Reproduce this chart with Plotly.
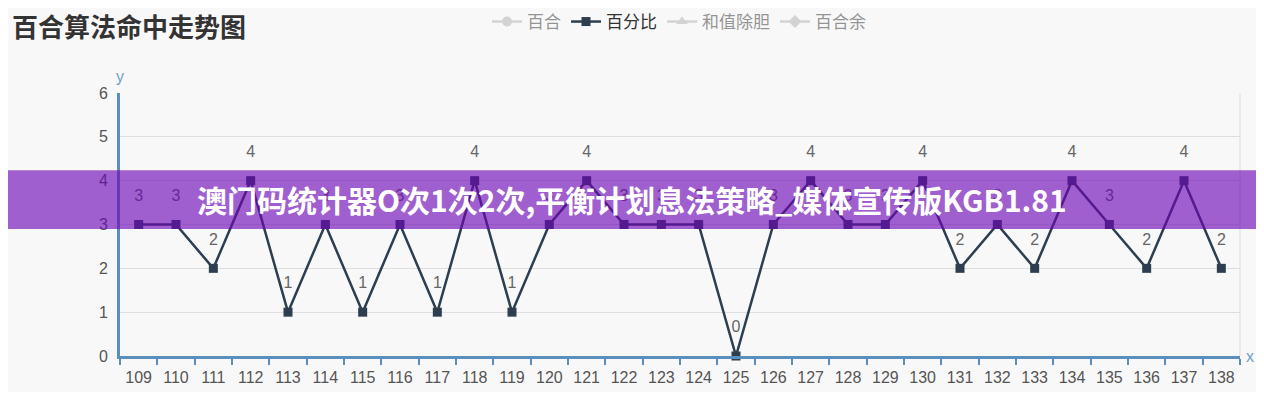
import plotly.graph_objects as go

periods = [str(p) for p in range(109, 139)]
pct_values = [3, 3, 2, 4, 1, 3, 1, 3, 1, 4, 1, 3, 4, 3, 3, 3, 0, 3, 4, 3,
              3, 4, 2, 3, 2, 4, 3, 2, 4, 2]
legend_names = ["百合", "百分比", "和值除胆", "百合余"]
legend_symbols = ["circle", "square", "triangle-up", "diamond"]

title_text = "百合算法命中走势图"
banner_text = "澳门码统计器O次1次2次,平衡计划息法策略_媒体宣传版KGB1.81"

font_main = "Arial, Liberation Sans, Noto Sans CJK SC, sans-serif"
font_cjk = "Noto Sans CJK SC, sans-serif"
axis_blue = "#5b8fbd"
dark = "#2c3e50"

# the page body adds an 8px margin, so the figure is 16px smaller than the window
W, H = 1248, 384
plot_l, plot_r = 112, 1232

fig = go.Figure()

for name, sym in zip(legend_names, legend_symbols):
    if name == "百分比":
        fig.add_trace(go.Scatter(
            x=periods, y=pct_values, name=name, mode="lines+markers",
            line=dict(color=dark, width=2.5),
            marker=dict(symbol=sym, size=9, color=dark),
            cliponaxis=False,
        ))
    else:
        # switched-off series, only shown (greyed) in the legend
        fig.add_trace(go.Scatter(
            x=periods, y=pct_values, name=name, mode="lines+markers",
            line=dict(color="#b0b0b0", width=2.5),
            marker=dict(symbol=sym, size=10, color="#b0b0b0"),
            visible="legendonly",
        ))

# value labels, pushed up by a large invisible marker
fig.add_trace(go.Scatter(
    x=periods, y=pct_values, mode="markers+text", showlegend=False,
    marker=dict(size=30, color="rgba(0,0,0,0)"),
    text=[str(v) for v in pct_values], textposition="top center",
    textfont=dict(size=16, color="#666666", family=font_main),
    hoverinfo="skip", cliponaxis=False,
))

fig.update_xaxes(
    type="category", range=[-0.5, len(periods) - 0.5],
    showgrid=False, showline=True, linecolor=axis_blue, linewidth=3,
    ticks="outside", tickson="boundaries", tickcolor=axis_blue,
    ticklen=6, tickwidth=1.5, ticklabelstandoff=5, automargin=False,
    tickfont=dict(size=16, color="#555555", family=font_main),
    zeroline=False, fixedrange=True,
)
fig.update_yaxes(
    range=[0, 6], dtick=1, showgrid=True, gridcolor="#dedede", gridwidth=1,
    showline=True, linecolor=axis_blue, linewidth=3, ticks="",
    ticklabelstandoff=6, automargin=False,
    tickfont=dict(size=16, color="#555555", family=font_main),
    zeroline=False, fixedrange=True,
)

fig.update_layout(
    width=W, height=H,
    margin=dict(l=plot_l, r=W - plot_r, t=85, b=36),
    paper_bgcolor="#f8f8f8", plot_bgcolor="#f8f8f8",
    font=dict(family=font_main),
    title=dict(text="<b>" + title_text + "</b>", xref="container", yref="container",
               x=4 / W, y=1 - 20 / H, xanchor="left", yanchor="middle",
               font=dict(size=26, color="#333333", family=font_cjk)),
    legend=dict(orientation="h", xref="container", yref="container",
                x=671 / W, y=1 - 14 / H, xanchor="center", yanchor="middle",
                font=dict(size=17, color="#333333", family=font_cjk),
                itemwidth=30, bgcolor="rgba(0,0,0,0)"),
    showlegend=True,
)

# axis name labels
fig.add_annotation(text="y", xref="paper", yref="paper", x=0, y=1,
                   xanchor="center", yanchor="middle", yshift=17, showarrow=False,
                   font=dict(size=16, color="#6f9fc8", family=font_main))
fig.add_annotation(text="x", xref="paper", yref="paper", x=1, y=0,
                   xanchor="left", yanchor="middle", xshift=4, showarrow=False,
                   font=dict(size=16, color="#6f9fc8", family=font_main))

# right border of plot area
fig.add_shape(type="line", xref="paper", yref="paper", x0=1, x1=1, y0=0, y1=1,
              line=dict(color="#dcdcdc", width=1))

# purple watermark banner across the chart
pw = plot_r - plot_l
fig.add_shape(type="rect", xref="paper", yref="y", x0=-plot_l / pw - 0.01, x1=1 + (W - plot_r) / pw + 0.01,
              y0=2.9, y1=4.24, layer="above", line=dict(width=0),
              fillcolor="rgba(108,5,181,0.63)")
fig.add_annotation(text="<b>" + banner_text + "</b>", xref="paper", yref="y",
                   x=(624 - plot_l) / pw, y=3.58, showarrow=False,
                   font=dict(size=30, color="white", family=font_cjk))

fig.write_html("out.html")
